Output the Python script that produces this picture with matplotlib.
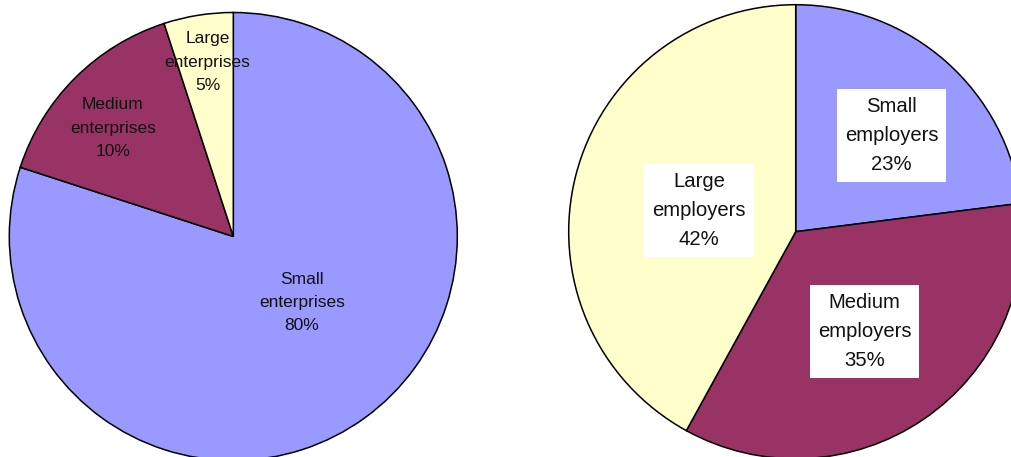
import matplotlib
matplotlib.use("Agg")
import matplotlib.pyplot as plt

# ---- data ----
ent_categories = ["Small\nenterprises", "Medium\nenterprises", "Large\nenterprises"]
ent_shares = [80, 15, 5]            # slice sizes as drawn
ent_pct_labels = ["80%", "10%", "5%"]  # percentages as printed

emp_categories = ["Small\nemployers", "Medium\nemployers", "Large\nemployers"]
emp_shares = [23, 35, 42]
emp_pct_labels = ["23%", "35%", "42%"]

colors = ["#9999FF", "#993366", "#FFFFCC"]

W, H = 1012, 457
fig = plt.figure(figsize=(W / 100, H / 100), dpi=100)
ax = fig.add_axes([0, 0, 1, 1])

plt.rcParams['font.family'] = ['Liberation Sans', 'DejaVu Sans']

wp = dict(edgecolor="black", linewidth=1.1)

# left pie
ax.pie(ent_shares, colors=colors, startangle=90, counterclock=False,
       center=(233.3, H - 236.5), radius=224, wedgeprops=wp)
# right pie
ax.pie(emp_shares, colors=colors, startangle=90, counterclock=False,
       center=(795.7, H - 231.7), radius=227, wedgeprops=wp)

ax.set_xlim(0, W)
ax.set_ylim(0, H)
ax.set_aspect("auto")
ax.axis("off")

# labels of left pie (no box)
ent_label_pos = [(301.7, 302.5), (112.7, 128), (207.5, 62)]
for (x, y), cat, pct in zip(ent_label_pos, ent_categories, ent_pct_labels):
    ax.text(x, H - y, f"{cat}\n{pct}", ha="center", va="center",
            fontsize=12.5, linespacing=1.68, color="#111111")

# labels of right pie (white boxes)
emp_label_pos = [(891.5, 135.5), (864.5, 331.5), (699.3, 210.5)]
for (x, y), cat, pct in zip(emp_label_pos, emp_categories, emp_pct_labels):
    ax.text(x, H - y, f"{cat}\n{pct}", ha="center", va="center",
            fontsize=14.6, linespacing=1.66, color="#111111",
            bbox=dict(boxstyle="square,pad=0.4", facecolor="white", edgecolor="none"))

fig.savefig("out.png", dpi=100)
